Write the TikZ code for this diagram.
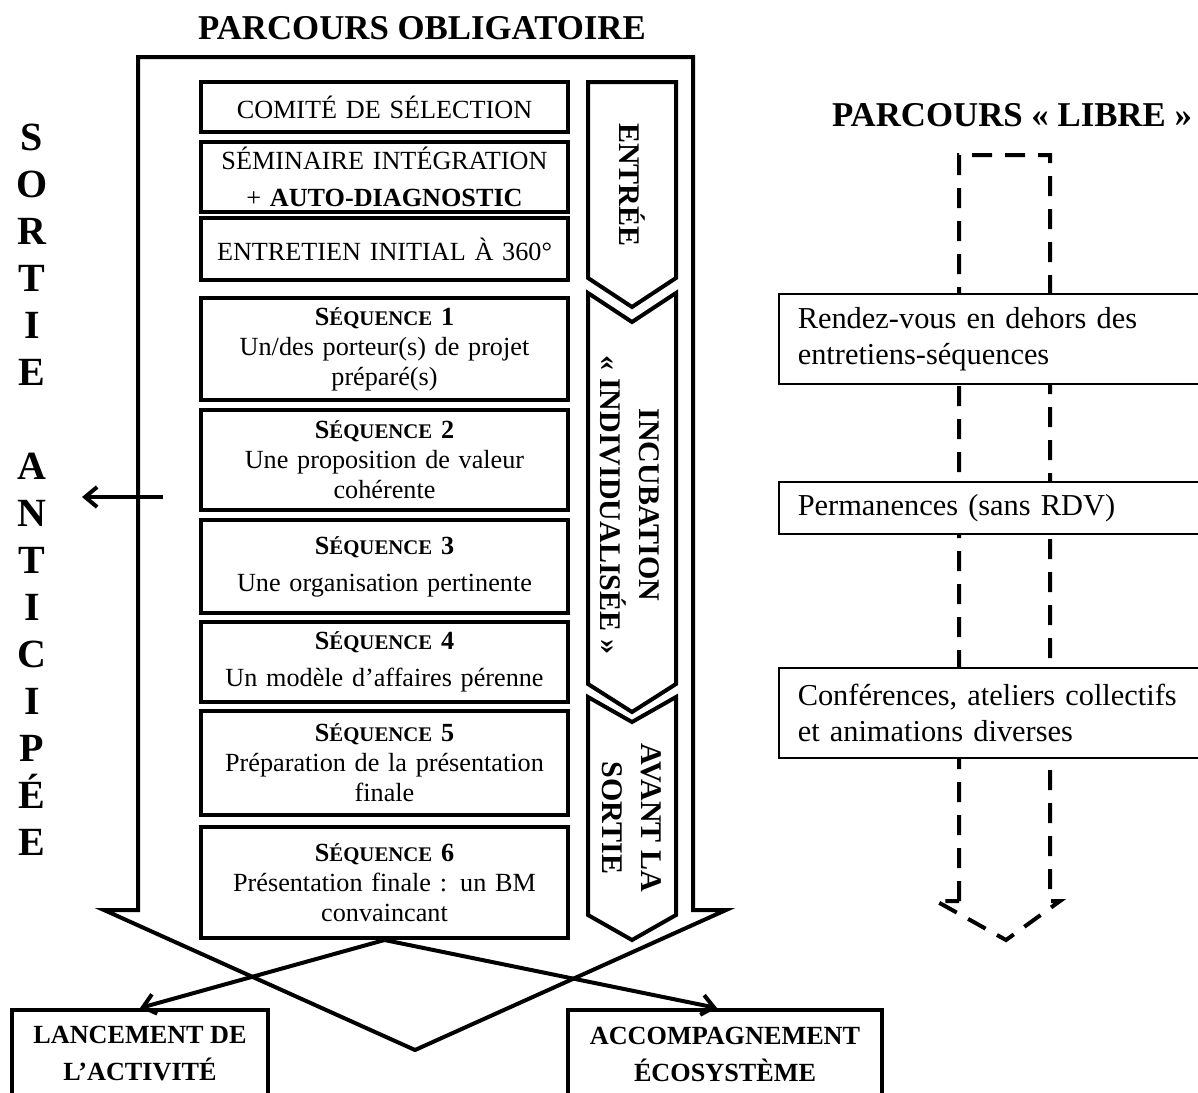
\documentclass[tikz,border=0pt]{standalone}
\usepackage{fontspec}
\setmainfont{Liberation Serif}
\usetikzlibrary{arrows.meta}

\newcommand{\seqtitre}[1]{\textbf{S{\fontsize{10.4}{12}\selectfont ÉQUENCE} #1}}

\begin{document}
\begin{tikzpicture}[x=0.5pt, y=-0.5pt,
    etape/.style={draw, line width=2pt, fill=white, minimum width=183.5pt, text width=180pt, align=center, inner sep=0pt, font=\fontsize{13.1}{15}\selectfont},
    chevron/.style={draw, line width=2pt, line join=miter},
    vertical/.style={rotate=-90, align=center, font=\bfseries\fontsize{15}{19.5}\selectfont},
    libre/.style={draw, line width=0.75pt, fill=white, anchor=north west, text width=192pt, inner xsep=9.5pt, inner ysep=0pt, align=left, font=\fontsize{15.2}{18}\selectfont},
    issue/.style={draw, line width=2pt, anchor=north, minimum height=44pt, align=center, font=\bfseries\fontsize{13.1}{18.5}\selectfont},
    titre/.style={font=\bfseries\fontsize{17.4}{20}\selectfont},
    lettre/.style={anchor=base, font=\bfseries\fontsize{20}{24}\selectfont},
    fleche/.style={line width=2pt, -{Straight Barb[length=6pt, width=10pt]}}]
    \useasboundingbox (0,0) rectangle (1198,1092);

    % Titles
    \node[titre] (obligatoire) at (422,28) {PARCOURS OBLIGATOIRE};
    \node[titre] (libreTitre) at (1012,115) {PARCOURS «~LIBRE~»};

    % Big arrow of the compulsory path
    \draw[line width=2pt, line join=miter] (138,57) -- (693,57) -- (693,910) -- (726,910) -- (415,1050) -- (104,910) -- (138,910) -- cycle;

    % Chevrons with the phases
    \draw[chevron] (588,82) -- (676,82) -- (676,278) -- (632,307) -- (588,278) -- cycle;
    \draw[chevron] (588,293) -- (632,322) -- (676,293) -- (676,684) -- (632,712) -- (588,684) -- cycle;
    \draw[chevron] (588,697) -- (632,722) -- (676,697) -- (676,915) -- (632,940) -- (588,915) -- cycle;
    \node[vertical] (entree) at (632,185) {ENTRÉE};
    \node[vertical] (incubation) at (630,505) {INCUBATION\\«~INDIVIDUALISÉE~»};
    \node[vertical] (avant) at (632,818) {AVANT LA\\SORTIE};

    % Steps of the compulsory path
    \node[etape, minimum height=25pt] (comite) at (384.5,107) {COMITÉ DE SÉLECTION};
    \node[etape, minimum height=35pt] (seminaire) at (384.5,177) {SÉMINAIRE INTÉGRATION\\[3.5pt]+ \textbf{AUTO-DIAGNOSTIC}};
    \node[etape, minimum height=31pt] (entretien) at (384.5,249) {ENTRETIEN INITIAL À 360°};
    \node[etape, minimum height=51pt] (seq1) at (384.5,349) {\seqtitre{1}\\Un/des porteur(s) de projet\\préparé(s)};
    \node[etape, minimum height=50pt] (seq2) at (384.5,460) {\seqtitre{2}\\Une proposition de valeur\\cohérente};
    \node[etape, minimum height=46.5pt] (seq3) at (384.5,566.5) {\seqtitre{3}\\[3.5pt]Une organisation pertinente};
    \node[etape, minimum height=40pt] (seq4) at (384.5,662) {\seqtitre{4}\\[3.5pt]Un modèle d’affaires pérenne};
    \node[etape, minimum height=52pt] (seq5) at (384.5,763) {\seqtitre{5}\\Préparation de la présentation\\finale};
    \node[etape, minimum height=55.5pt] (seq6) at (384.5,882.5) {\seqtitre{6}\\Présentation finale : un BM\\convaincant};

    % Early exit
    \foreach \lettre [count=\i] in {S,O,R,T,I,E,{},A,N,T,I,C,I,P,É,E}
        \node[lettre] (sortie\i) at (32,{150+47*(\i-1)}) {\lettre};
    \coordinate (sortieDepart) at (163,497);
    \coordinate (sortieFin) at (82,497);
    \draw[fleche] (sortieDepart) -- (sortieFin);

    % Outcomes
    \node[issue, minimum width=128pt] (lancement) at (140,1008) {LANCEMENT DE\\L’ACTIVITÉ};
    \node[issue, minimum width=157pt] (accompagnement) at (725,1008) {ACCOMPAGNEMENT\\ÉCOSYSTÈME};
    \draw[fleche] (seq6.south) -- (lancement.north);
    \draw[fleche] (seq6.south) -- ([xshift=-4pt]accompagnement.north);

    % Free path
    \draw[line width=2pt, dash pattern=on 10pt off 6.5pt] (959,901) -- (959,155) -- (1050,155) -- (1050,901) -- (1060,901) -- (1006,940) -- (936,901) -- cycle;
    \node[libre, minimum height=45pt] (rdv) at (778,293) {Rendez-vous en dehors des\\entretiens-séquences};
    \node[libre, minimum height=26pt] (permanences) at (778,481) {Permanences (sans RDV)};
    \node[libre, minimum height=45pt] (conferences) at (778,667) {Conférences, ateliers collectifs\\et animations diverses};
\end{tikzpicture}
\end{document}
